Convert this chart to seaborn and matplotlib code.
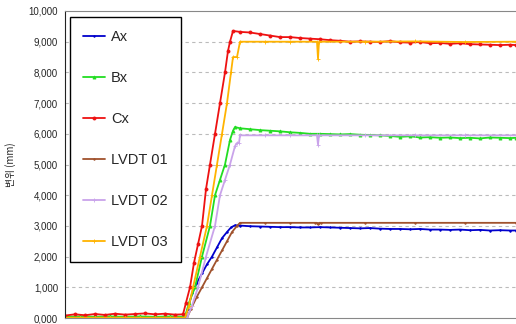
import matplotlib
matplotlib.use("Agg")
import matplotlib.pyplot as plt
import seaborn as sns

# displacement data (x: time, y: mm)
flat_x = [0, 15, 30, 45, 60, 75, 90, 105]

ax_x = flat_x + [120, 123, 127, 132, 137, 142, 147, 152, 157, 162, 166, 170, 175, 185, 195, 205, 215, 225, 235, 245,
                 255, 265, 275, 285, 295, 305, 315, 325, 335, 345, 355, 365, 375, 385, 395, 405, 415, 425, 435, 445, 451]
ax_y = [20, 30, 20, 30, 20, 30, 20, 30] + [30, 300, 800, 1150, 1450, 1750, 2000, 2300, 2600, 2800, 2950, 3020, 3010,
                                           2990, 2980, 2970, 2960, 2960, 2950, 2950, 2960, 2950, 2940, 2930, 2920,
                                           2930, 2910, 2900, 2900, 2890, 2900, 2880, 2880, 2870, 2880, 2860, 2870,
                                           2850, 2860, 2850, 2850]

bx_x = flat_x + [120, 124, 130, 137, 145, 150, 155, 160, 165, 168, 170, 175, 185, 195, 205, 215, 225, 235, 245, 255,
                 265, 275, 285, 295, 305, 315, 325, 335, 345, 355, 365, 375, 385, 395, 405, 415, 425, 435, 445, 451]
bx_y = [40, 50, 40, 50, 40, 50, 40, 50] + [40, 500, 1000, 2000, 3000, 4000, 4500, 5000, 5800, 6100, 6220, 6180, 6150,
                                           6120, 6100, 6080, 6050, 6030, 6000, 6000, 5990, 5980, 5990, 5970, 5960,
                                           5950, 5930, 5900, 5920, 5880, 5890, 5870, 5880, 5860, 5870, 5850, 5880,
                                           5870, 5860, 5870]

cx_x = [0, 10, 20, 30, 40, 50, 60, 70, 80, 90, 100, 110, 118, 121, 125, 129, 133, 137, 141, 145, 150, 155, 160, 163,
        165, 168, 175, 185, 195, 205, 215, 225, 235, 245, 255, 265, 275, 285, 295, 305, 315, 325, 335, 345, 355, 365,
        375, 385, 395, 405, 415, 425, 435, 445, 451]
cx_y = [80, 120, 90, 130, 100, 140, 110, 130, 150, 120, 140, 110, 120, 500, 1000, 1800, 2400, 3000, 4200, 5000, 6000,
        7000, 8000, 8700, 9000, 9350, 9320, 9300, 9250, 9200, 9150, 9150, 9120, 9100, 9080, 9050, 9030, 9000, 9010,
        9000, 8990, 9020, 8980, 8970, 8990, 8950, 8960, 8930, 8950, 8920, 8910, 8900, 8890, 8900, 8890]

l1_x = flat_x + [122, 126, 132, 137, 142, 147, 152, 157, 162, 167, 172, 175, 200, 225, 250, 252, 253, 254, 256, 300,
                 350, 400, 451]
l1_y = [0, 0, 0, 0, 0, 0, 0, 0] + [0, 300, 700, 1000, 1300, 1600, 1900, 2200, 2500, 2800, 3000, 3100, 3100, 3100,
                                   3100, 3100, 3050, 3100, 3100, 3100, 3100, 3100, 3100]

l2_x = flat_x + [122, 127, 133, 141, 150, 155, 160, 165, 170, 172, 174, 175, 200, 225, 252, 253, 254, 300, 350, 400,
                 451]
l2_y = [0, 0, 0, 0, 0, 0, 0, 0] + [0, 400, 1000, 2000, 3000, 4000, 4500, 5000, 5600, 5700, 5700, 5950, 5950, 5950,
                                   5950, 5650, 5950, 5950, 5950, 5950, 5950]

l3_x = flat_x + [120, 124, 128, 135, 142, 147, 152, 157, 162, 166, 168, 172, 175, 200, 225, 252, 253, 254, 300, 350,
                 400, 451]
l3_y = [10, 10, 10, 10, 10, 10, 10, 10] + [10, 400, 1000, 2000, 3000, 4000, 5000, 6000, 7000, 8000, 8500, 8500, 9000,
                                           9000, 9000, 9000, 8450, 9000, 9000, 9010, 8990, 9000]

names = ["Ax", "Bx", "Cx", "LVDT 01", "LVDT 02", "LVDT 03"]
colors = ["#0000cc", "#22dd22", "#ee1111", "#a0522d", "#c9a3ea", "#ffb300"]
markers = [".", "^", "o", ".", "+", "+"]
ytick_labels = ["0,000", "1,000", "2,000", "3,000", "4,000", "5,000",
                "6,000", "7,000", "8,000", "9,000", "10,000"]

sns.set_style("white")
plt.rcParams['font.family'] = ['Liberation Sans', 'DejaVu Sans']

fig = plt.figure(figsize=(5.16, 3.24), dpi=100)
ax = fig.add_axes([65 / 516, 6 / 324, 451 / 516, 307 / 324])

series = [(ax_x, ax_y), (bx_x, bx_y), (cx_x, cx_y), (l1_x, l1_y), (l2_x, l2_y), (l3_x, l3_y)]
for (xs, ys), name, c, m in zip(series, names, colors, markers):
    sns.lineplot(x=xs, y=ys, ax=ax, color=c, marker=m, markersize=2.2, markeredgewidth=0.6,
                 markeredgecolor=c, linewidth=1.3, label=name, sort=False, estimator=None)

ax.set_xlim(0, 451)
ax.set_ylim(0, 10000)
ax.set_yticks(range(0, 10001, 1000))
ax.set_yticklabels(ytick_labels, fontsize=7)
ax.set_xticks([])
ax.tick_params(axis='y', length=0, pad=5)
for v in range(1000, 10000, 1000):
    ax.axhline(v, color="#bbbbbb", linestyle=(0, (3, 3)), linewidth=0.8, zorder=0)

ax.spines['left'].set_color("#222222")
ax.spines['top'].set_color("#888888")
ax.spines['bottom'].set_color("#888888")
ax.spines['right'].set_visible(False)

ax.set_ylabel("변위 (mm)", fontsize=7, family=['Noto Sans CJK KR', 'DejaVu Sans'], labelpad=9)

leg = ax.legend(loc='upper left', bbox_to_anchor=(0.011, 0.98), borderaxespad=0, fontsize=10.5,
                labelspacing=1.85, handlelength=1.5, handletextpad=0.4, borderpad=0.9,
                frameon=True, fancybox=False, framealpha=1)
leg.get_frame().set_edgecolor("black")
leg.get_frame().set_linewidth(1.0)

plt.savefig("out.png", dpi=100)
